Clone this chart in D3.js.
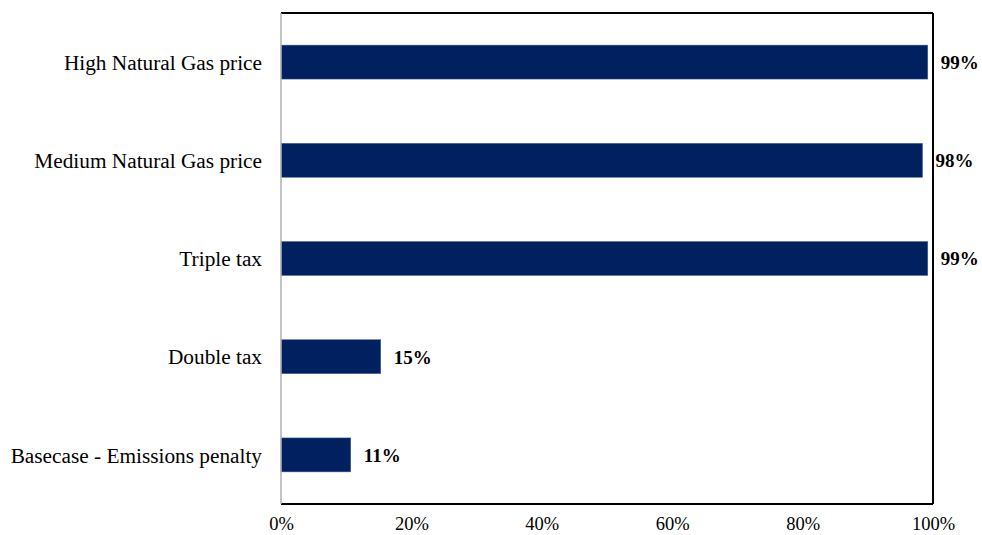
<!DOCTYPE html>
<html>
<head>
<meta charset="utf-8">
<script src="https://cdn.jsdelivr.net/npm/d3@7"></script>
<style>
  html, body { margin: 0; padding: 0; background: #fff; }
  svg { display: block; }
  text { font-family: "Liberation Serif", "Times New Roman", serif; fill: #000; }
</style>
</head>
<body>
<svg id="chart" width="982" height="535"></svg>
<script>
const categories = ["High Natural Gas price", "Medium Natural Gas price", "Triple tax", "Double tax", "Basecase - Emissions penalty"];
const values = [99.2, 98.4, 99.2, 15.3, 10.7];
const valueLabels = ["99%", "98%", "99%", "15%", "11%"];
const tickValues = [0, 20, 40, 60, 80, 100];

(function () {
const svg = d3.select("#chart");
const pLeft = 281, pRight = 933, pTop = 13, pBottom = 504;
const serif = "'Liberation Serif', 'Times New Roman', serif";

const x = d3.scaleLinear().domain([0, 100]).range([pLeft, pRight]);
const y = d3.scaleBand().domain(categories).range([pTop, pBottom]).paddingInner(0.654).paddingOuter(0.327);

// bars
svg.append("g").selectAll("rect").data(categories).join("rect")
  .attr("x", x(0))
  .attr("y", d => y(d))
  .attr("width", (d, i) => x(values[i]) - x(0))
  .attr("height", y.bandwidth())
  .attr("fill", "#002060")
  .attr("stroke", "#4a6a9a")
  .attr("stroke-width", 0.5);

// frame: top, right, bottom black; left gray
svg.append("line").attr("x1", pLeft).attr("x2", pRight).attr("y1", pTop).attr("y2", pTop).attr("stroke", "#000").attr("stroke-width", 2);
svg.append("line").attr("x1", pRight).attr("x2", pRight).attr("y1", pTop).attr("y2", pBottom).attr("stroke", "#000").attr("stroke-width", 2);
svg.append("line").attr("x1", pLeft).attr("x2", pRight).attr("y1", pBottom).attr("y2", pBottom).attr("stroke", "#000").attr("stroke-width", 2);
svg.append("line").attr("x1", pLeft).attr("x2", pLeft).attr("y1", pTop).attr("y2", pBottom).attr("stroke", "#b0b0b0").attr("stroke-width", 1.5);

// x axis tick labels
const xAxis = d3.axisBottom(x).tickValues(tickValues).tickFormat(d => d + "%").tickSize(0).tickPadding(0);
const gx = svg.append("g").attr("transform", `translate(0,${pBottom})`).call(xAxis);
gx.select(".domain").remove();
gx.selectAll("text").attr("font-size", 18.5).attr("dy", null).attr("y", 26)
  .style("font-family", serif).attr("fill", "#000");

// y axis category labels
const yAxis = d3.axisLeft(y).tickSize(0).tickPadding(19);
const gy = svg.append("g").attr("transform", `translate(${pLeft},0)`).call(yAxis);
gy.select(".domain").remove();
gy.selectAll("text").attr("font-size", 21.3).attr("dy", "0.36em")
  .style("font-family", serif).attr("fill", "#000");

// value labels
svg.append("g").selectAll("text").data(categories).join("text")
  .attr("x", (d, i) => x(values[i]) + 13)
  .attr("y", d => y(d) + y.bandwidth() / 2)
  .attr("dy", "0.36em")
  .attr("font-size", 19)
  .attr("font-weight", "bold")
  .style("font-family", serif)
  .text((d, i) => valueLabels[i]);
})();
</script>
</body>
</html>
